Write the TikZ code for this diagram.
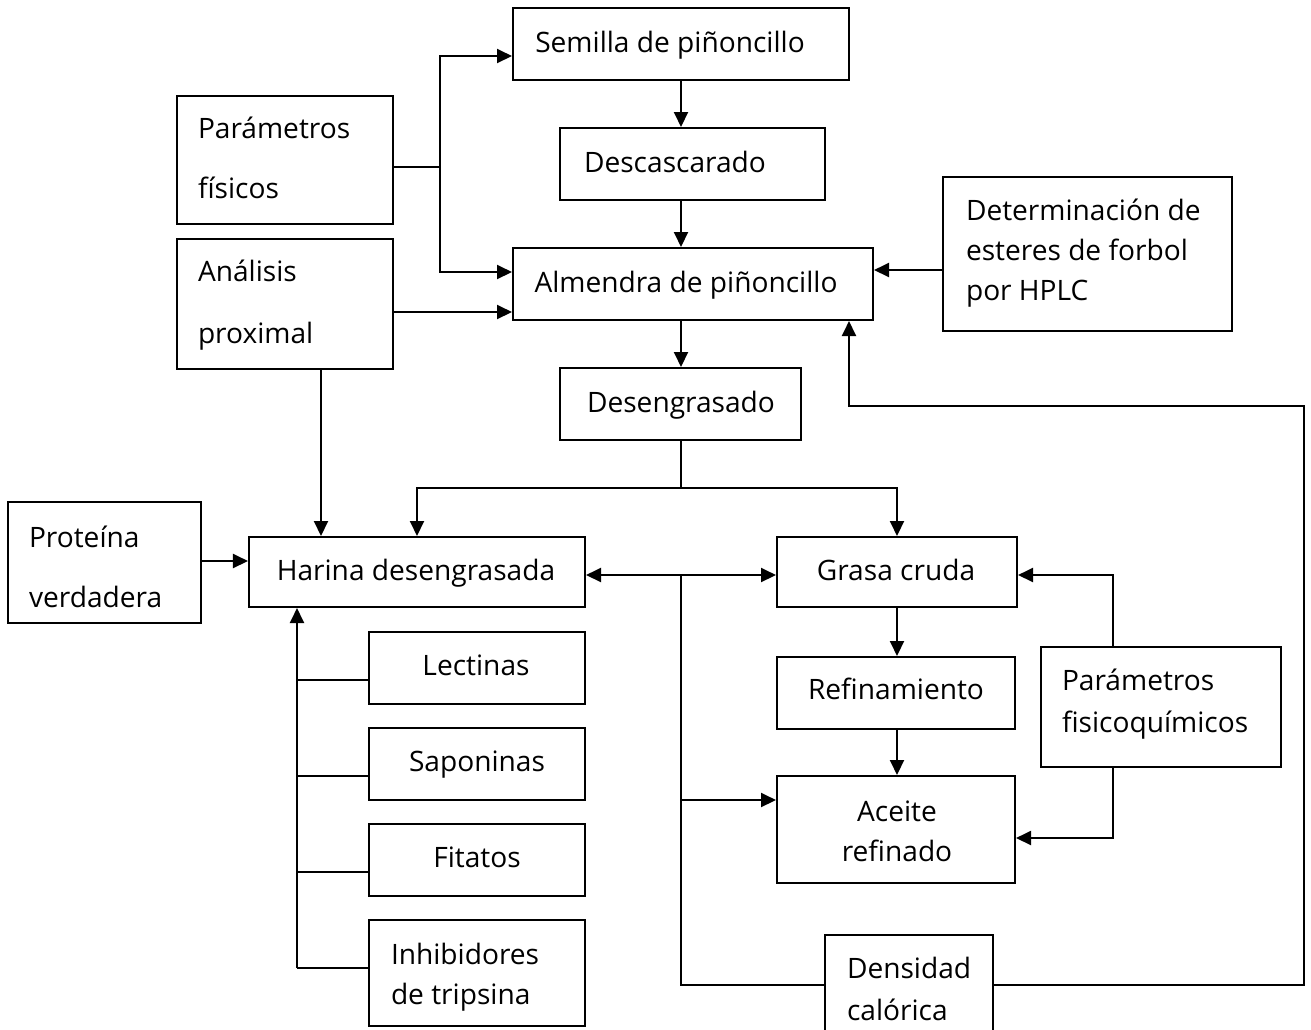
\documentclass[tikz,border=0pt]{standalone}
\usepackage{fontspec}
\setmainfont{Open Sans}
\usetikzlibrary{arrows.meta,fit}
\begin{document}
\begin{tikzpicture}[x=0.02cm,y=-0.02cm,
  line width=1.15pt,
  box/.style={draw,inner sep=0pt,line width=1.15pt},
  txt/.style={anchor=base,inner sep=0pt,font=\fontsize{16}{19}\selectfont},
  ltxt/.style={anchor=base west,inner sep=0pt,font=\fontsize{16}{19}\selectfont},
  arr/.style={-{Triangle[length=0.3cm,width=0.28cm]}},
  arrb/.style={{Triangle[length=0.3cm,width=0.28cm]}-{Triangle[length=0.3cm,width=0.28cm]}}]
\useasboundingbox (0,0) rectangle (1311,1029);
% boxes
\node[box,fit={(513,8)(849,80)}] (sem) {};
\node[box,fit={(560,128)(825,200)}] (desc) {};
\node[box,fit={(513,248)(873,320)}] (alm) {};
\node[box,fit={(943,177)(1232,331)}] (det) {};
\node[box,fit={(177,96)(393,224)}] (pf) {};
\node[box,fit={(177,239)(393,369)}] (ap) {};
\node[box,fit={(560,368)(801,440)}] (deg) {};
\node[box,fit={(8,502)(201,623)}] (pv) {};
\node[box,fit={(249,537)(585,607)}] (har) {};
\node[box,fit={(369,632)(585,704)}] (lec) {};
\node[box,fit={(369,728)(585,800)}] (sap) {};
\node[box,fit={(369,824)(585,896)}] (fit) {};
\node[box,fit={(369,920)(585,1026)}] (inh) {};
\node[box,fit={(777,537)(1017,607)}] (gra) {};
\node[box,fit={(777,657)(1015,729)}] (ref) {};
\node[box,fit={(777,776)(1015,883)}] (ace) {};
\node[box,fit={(1041,647)(1281,767)}] (pq) {};
\node[box,fit={(825,935)(993,1040)}] (dc) {};
% texts
\node[txt] (tsem) at (670,52) {Semilla de piñoncillo};
\node[txt] (tdesc) at (675,172) {Descascarado};
\node[txt] (talm) at (686,292) {Almendra de piñoncillo};
\node[txt] (tdeg) at (681,412) {Desengrasado};
\node[txt] (thar) at (416,580) {Harina desengrasada};
\node[txt] (tlec) at (476,675) {Lectinas};
\node[txt] (tsap) at (477,771) {Saponinas};
\node[txt] (tfit) at (477,867) {Fitatos};
\node[txt] (tgra) at (896,580) {Grasa cruda};
\node[txt] (tref) at (896,699) {Refinamiento};
\node[txt] (tace1) at (897,821) {Aceite};
\node[txt] (tace2) at (897,861) {refinado};
\node[ltxt] (tpf1) at (197,138) {Parámetros};
\node[ltxt] (tpf2) at (197,198) {físicos};
\node[ltxt] (tap1) at (197,281) {Análisis};
\node[ltxt] (tap2) at (197,343) {proximal};
\node[ltxt] (tdet1) at (965,220) {Determinación de};
\node[ltxt] (tdet2) at (965,260) {esteres de forbol};
\node[ltxt] (tdet3) at (965,300) {por HPLC};
\node[ltxt] (tpv1) at (28,547) {Proteína};
\node[ltxt] (tpv2) at (28,607) {verdadera};
\node[ltxt] (tinh1) at (390,964) {Inhibidores};
\node[ltxt] (tinh2) at (390,1004) {de tripsina};
\node[ltxt] (tpq1) at (1061,690) {Parámetros};
\node[ltxt] (tpq2) at (1061,732) {fisicoquímicos};
\node[ltxt] (tdc1) at (846,978) {Densidad};
\node[ltxt] (tdc2) at (846,1020) {calórica};
% junction coordinates
\coordinate (cx) at (681,0);
\coordinate (jA) at (440,167);
\coordinate (jD) at (681,488);
\coordinate (jH) at (681,575);
\coordinate (jAce) at (681,800);
\coordinate (jR) at (1304,406);
\coordinate (jL) at (297,968);
% connectors
\draw (pf.east |- jA) -- (jA);
\draw[arr] (jA) |- (sem.west |- 0,56);
\draw[arr] (jA) |- (alm.west |- 0,272);
\draw[arr] (ap.east |- 0,312) -- (alm.west |- 0,312);
\draw[arr] (ap.south -| 321,0) -- (har.north -| 321,0);
\draw[arr] (sem.south -| cx) -- (desc.north -| cx);
\draw[arr] (desc.south -| cx) -- (alm.north -| cx);
\draw[arr] (alm.south -| cx) -- (deg.north -| cx);
\draw[arr] (det.west |- 0,270) -- (alm.east |- 0,270);
\draw (deg.south -| cx) -- (jD);
\draw[arr] (jD) -| (har.north -| 417,0);
\draw[arr] (jD) -| (gra.north -| 897,0);
\draw[arr] (pv.east |- 0,561) -- (har.west |- 0,561);
\draw[arrb] (har.east |- jH) -- (gra.west |- jH);
\draw (jH) |- (dc.west |- 0,985);
\draw[arr] (jAce) -- (ace.west |- jAce);
\draw[arr] (gra.south -| 897,0) -- (ref.north -| 897,0);
\draw[arr] (ref.south -| 897,0) -- (ace.north -| 897,0);
\draw[arr] (pq.north -| 1113,0) |- (gra.east |- jH);
\draw[arr] (pq.south -| 1113,0) |- (ace.east |- 0,838);
\draw[arr] (dc.east |- 0,985) -| (jR) -| (alm.south -| 849,0);
\draw[arr] (jL) -- (har.south -| jL);
\draw (jL |- 0,680) -- (lec.west |- 0,680);
\draw (jL |- 0,776) -- (sap.west |- 0,776);
\draw (jL |- 0,872) -- (fit.west |- 0,872);
\draw (jL) -- (inh.west |- jL);
\end{tikzpicture}
\end{document}
